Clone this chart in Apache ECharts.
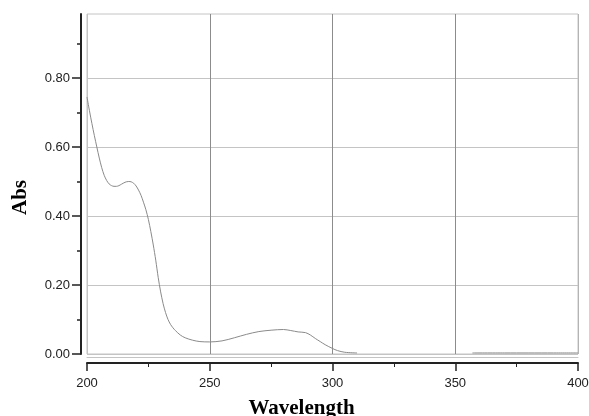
<!DOCTYPE html>
<html>
<head>
<meta charset="utf-8">
<script src="https://cdn.jsdelivr.net/npm/echarts@6/dist/echarts.min.js"></script>
<style>
html,body{margin:0;padding:0;background:#fff;}
#chart{width:589px;height:416px;}
</style>
</head>
<body>
<div id="chart"></div>
<script>
// Wavelength (nm) and absorbance
const wavelength = [200,201,202,203,204,205,206,207,208,209,210,211,212,213,214,215,216,217,218,219,220,221,222,223,224,225,226,227,228,229,230,231,232,233,234,235,236,238,240,243,246,250,255,260,265,270,275,280,283,286,289,291,293,295,297,300,302,305,310,330,357,370,380,390,400];
const absorbance = [0.745,0.705,0.668,0.633,0.600,0.568,0.540,0.518,0.503,0.493,0.488,0.486,0.486,0.488,0.492,0.496,0.499,0.500,0.499,0.495,0.487,0.475,0.460,0.440,0.418,0.390,0.355,0.316,0.272,0.222,0.180,0.146,0.120,0.100,0.086,0.076,0.068,0.055,0.047,0.040,0.036,0.035,0.038,0.047,0.057,0.065,0.069,0.071,0.068,0.064,0.062,0.055,0.045,0.036,0.027,0.016,0.010,0.005,0.003,null,0.003,0.003,0.003,0.003,0.003];
const yMajorTicks = [0, 0.2, 0.4, 0.6, 0.8];
const yMinorTicks = [0.1, 0.3, 0.5, 0.7, 0.9];
const xTicks = [200, 250, 300, 350, 400];

const chart = echarts.init(document.getElementById('chart'));
const seriesData = wavelength.map((w, i) => [w, absorbance[i] === null ? '-' : absorbance[i]]);

const labelFont = {fontFamily: 'Liberation Sans, Arial, sans-serif', fontSize: 13, color: '#222'};
const titleFont = {fontFamily: 'Liberation Serif, Times New Roman, serif', fontSize: 21, fontWeight: 'bold', color: '#000'};

chart.setOption({
  animation: false,
  backgroundColor: '#fff',
  grid: {left: 87, right: 11, top: 14, bottom: 62, show: true, borderColor: '#c4c4c4', borderWidth: 1, containLabel: false, outerBoundsMode: 'none'},
  xAxis: [{
    type: 'value', min: xTicks[0], max: xTicks[xTicks.length - 1], interval: 50,
    position: 'bottom', offset: 9,
    name: 'Wavelength', nameLocation: 'middle', nameGap: 35,
    nameTextStyle: Object.assign({}, titleFont, {padding: [0, 62, 0, 0]}),
    axisLine: {show: true, onZero: false, lineStyle: {color: '#222', width: 2}},
    axisTick: {show: true, length: 8, lineStyle: {color: '#222', width: 1.5}},
    minorTick: {show: true, splitNumber: 2, length: 4, lineStyle: {color: '#222', width: 1}},
    axisLabel: Object.assign({}, labelFont, {margin: 14}),
    splitLine: {show: true, lineStyle: {color: ['#c4c4c4', '#8c8c8c', '#8c8c8c', '#8c8c8c', '#b4b4b4'], width: 1}}
  }, {
    type: 'value', min: xTicks[0], max: xTicks[xTicks.length - 1],
    position: 'bottom', offset: 3,
    axisLine: {show: true, onZero: false, lineStyle: {color: '#c4c4c4', width: 1}},
    axisTick: {show: false}, axisLabel: {show: false}, splitLine: {show: false}
  }],
  yAxis: [{
    type: 'value', min: 0, max: 0.9855, interval: 0.2,
    position: 'left', offset: 6,
    name: 'Abs', nameLocation: 'middle', nameGap: 50, nameRotate: 90,
    nameTextStyle: Object.assign({}, titleFont, {padding: [0, 27, 0, 0]}),
    axisLine: {show: true, onZero: false, lineStyle: {color: '#222', width: 2}},
    axisTick: {show: true, length: 9, customValues: yMajorTicks, lineStyle: {color: '#222', width: 1.5}},
    axisLabel: Object.assign({}, labelFont, {margin: 11, customValues: yMajorTicks, formatter: v => v.toFixed(2)}),
    splitLine: {show: true, lineStyle: {color: '#c4c4c4', width: 1}}
  }, {
    type: 'value', min: 0, max: 0.9855,
    position: 'left', offset: 6,
    axisLine: {show: false},
    axisTick: {show: true, length: 4, customValues: yMinorTicks, lineStyle: {color: '#222', width: 1.5}},
    axisLabel: {show: false}, splitLine: {show: false}
  }],
  series: [{
    type: 'line', xAxisIndex: 0, yAxisIndex: 0,
    data: seriesData, showSymbol: false, smooth: 0.3, connectNulls: false,
    lineStyle: {color: '#8a8a8a', width: 1}
  }]
});
</script>
</body>
</html>
